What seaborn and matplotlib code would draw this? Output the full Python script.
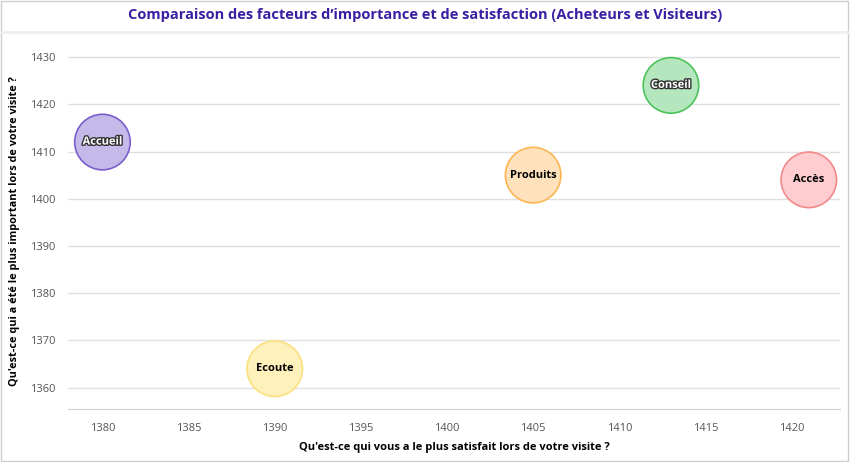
import pandas as pd
import matplotlib.pyplot as plt
import matplotlib.patheffects as pe
from matplotlib.lines import Line2D
from matplotlib.patches import Rectangle
import seaborn as sns

# data
labels = ['Accueil', 'Ecoute', 'Produits', 'Conseil', 'Accès']
satisfait = [1380, 1390, 1405, 1413, 1421]
important = [1412, 1364, 1405, 1424, 1404]
fills = ['#c4b9e9', '#fff1bb', '#ffe1bb', '#b5e7be', '#ffcdcf']
edges = ['#7a5fcc', '#fbe07e', '#fdb553', '#4cc35a', '#f28a8a']
dark_text = [False, True, True, False, True]

df = pd.DataFrame({'label': labels, 'x': satisfait, 'y': important})

sns.set_style('white')
plt.rcParams['font.family'] = ['Open Sans', 'DejaVu Sans']

fig = plt.figure(figsize=(8.5, 4.62), dpi=100)
ax = fig.add_axes([0.08, 0.115, 0.908, 0.785])

sns.scatterplot(data=df, x='x', y='y', hue='label', palette=dict(zip(labels, fills)),
                s=1600, legend=False, ax=ax, zorder=3)
ax.collections[0].set_edgecolor(edges)
ax.collections[0].set_linewidth(1.2)

for lab, xx, yy, dark in zip(labels, satisfait, important, dark_text):
    if dark:
        ax.text(xx, yy, lab, ha='center', va='center', fontsize=8, fontweight='bold',
                color='black', zorder=4)
    else:
        ax.text(xx, yy, lab, ha='center', va='center', fontsize=8, fontweight='bold',
                color='white', zorder=4,
                path_effects=[pe.withStroke(linewidth=2, foreground='#333333')])

ax.set_xlim(1378.0, 1422.8)
ax.set_ylim(1355.5, 1432.3)
ax.set_xticks([1380, 1385, 1390, 1395, 1400, 1405, 1410, 1415, 1420])
ax.set_yticks([1360, 1370, 1380, 1390, 1400, 1410, 1420, 1430])
ax.yaxis.grid(True, color='#e0e0e0', linewidth=1)
ax.set_axisbelow(True)
for side in ['top', 'right', 'left']:
    ax.spines[side].set_visible(False)
ax.spines['bottom'].set_color('#d0d0d0')
ax.tick_params(axis='x', length=7, color='#d0d0d0', labelsize=8, labelcolor='#555555', pad=3)
ax.tick_params(axis='y', length=0, labelsize=8, labelcolor='#555555', pad=9)

ax.set_xlabel("Qu'est-ce qui vous a le plus satisfait lors de votre visite ?",
              fontsize=8, fontweight='bold', color='black', labelpad=6)
ax.set_ylabel("Qu'est-ce qui a été le plus important lors de votre visite ?",
              fontsize=7.8, fontweight='bold', color='black', va='center')
ax.yaxis.set_label_coords(-0.069, 0.49)

fig.text(0.5, 0.967, "Comparaison des facteurs d’importance et de satisfaction (Acheteurs et Visiteurs)",
         ha='center', va='center', fontsize=10.5, fontweight='bold', color='#3a1fa3')
fig.add_artist(Line2D([0, 1], [0.93, 0.93], color='#efefef', linewidth=2, transform=fig.transFigure))
fig.add_artist(Rectangle((0.001, 0.002), 0.997, 0.995, fill=False, edgecolor='#cccccc',
                         linewidth=1, transform=fig.transFigure))

fig.savefig('out.png', dpi=100)
